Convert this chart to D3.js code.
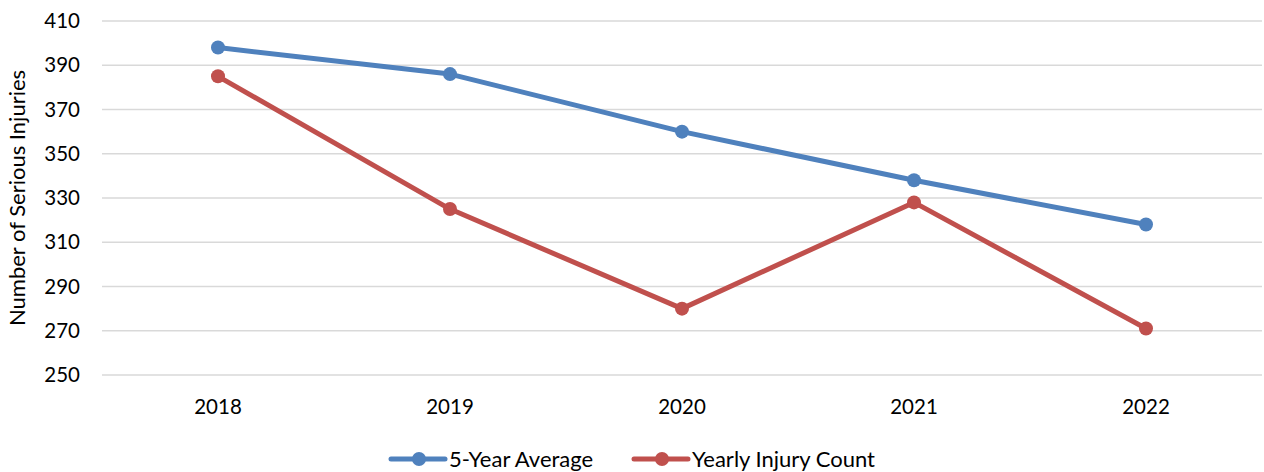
<!DOCTYPE html>
<html>
<head>
<meta charset="utf-8">
<script src="https://cdn.jsdelivr.net/npm/d3@7"></script>
<style>
  body { margin: 0; background: #fff; }
  text { font-family: Lato, "Open Sans", sans-serif; fill: #000; }
</style>
</head>
<body>
<svg id="chart"></svg>
<script>
// data
const years = ['2018', '2019', '2020', '2021', '2022'];
const fiveYearAverage = [398, 386, 360, 338, 318];
const yearlyInjuryCount = [385, 325, 280, 328, 271];
const yTicks = [250, 270, 290, 310, 330, 350, 370, 390, 410];
const seriesNames = ['5-Year Average', 'Yearly Injury Count'];
const seriesColors = ['#4F81BD', '#C0504D'];

const width = 1264, height = 472;
const margin = { top: 21, right: 2, bottom: 97, left: 102 };

const svg = d3.select('#chart')
  .attr('width', width)
  .attr('height', height);

const x = d3.scaleBand()
  .domain(years)
  .range([margin.left, width - margin.right]);

const y = d3.scaleLinear()
  .domain([250, 410])
  .range([height - margin.bottom, margin.top]);

// gridlines
svg.append('g')
  .selectAll('line')
  .data(yTicks)
  .join('line')
    .attr('x1', margin.left)
    .attr('x2', width - margin.right)
    .attr('y1', d => y(d))
    .attr('y2', d => y(d))
    .attr('stroke', '#d9d9d9')
    .attr('stroke-width', 1.5);

// y tick labels
svg.append('g')
  .selectAll('text')
  .data(yTicks)
  .join('text')
    .attr('x', 80)
    .attr('y', d => y(d))
    .attr('dy', '0.35em')
    .attr('text-anchor', 'end')
    .attr('font-size', 20.5)
    .text(d => d);

// x labels
svg.append('g')
  .selectAll('text')
  .data(years)
  .join('text')
    .attr('x', d => x(d) + x.bandwidth() / 2)
    .attr('y', 407)
    .attr('dy', '0.35em')
    .attr('text-anchor', 'middle')
    .attr('font-size', 20.5)
    .text(d => d);

// axis title
svg.append('text')
  .attr('transform', `translate(25, ${(y(250) + y(410)) / 2}) rotate(-90)`)
  .attr('text-anchor', 'middle')
  .attr('font-size', 22)
  .text('Number of Serious Injuries');

const line = d3.line()
  .x((d, i) => x(years[i]) + x.bandwidth() / 2)
  .y(d => y(d));

[fiveYearAverage, yearlyInjuryCount].forEach((values, s) => {
  const g = svg.append('g');
  g.append('path')
    .datum(values)
    .attr('d', line)
    .attr('fill', 'none')
    .attr('stroke', seriesColors[s])
    .attr('stroke-width', 5)
    .attr('stroke-linejoin', 'round')
    .attr('stroke-linecap', 'round');
  g.selectAll('circle')
    .data(values)
    .join('circle')
      .attr('cx', (d, i) => x(years[i]) + x.bandwidth() / 2)
      .attr('cy', d => y(d))
      .attr('r', 7)
      .attr('fill', seriesColors[s]);
});

// legend
const legendX = [391, 634];
const legend = svg.append('g')
  .selectAll('g')
  .data(seriesNames)
  .join('g')
    .attr('transform', (d, i) => `translate(${legendX[i]}, 459)`);

legend.append('line')
  .attr('x1', 0)
  .attr('x2', 54)
  .attr('stroke', (d, i) => seriesColors[i])
  .attr('stroke-width', 5)
  .attr('stroke-linecap', 'round');

legend.append('circle')
  .attr('cx', 28)
  .attr('r', 7)
  .attr('fill', (d, i) => seriesColors[i]);

legend.append('text')
  .attr('x', 58)
  .attr('dy', '0.35em')
  .attr('font-size', 22)
  .text(d => d);
</script>
</body>
</html>
